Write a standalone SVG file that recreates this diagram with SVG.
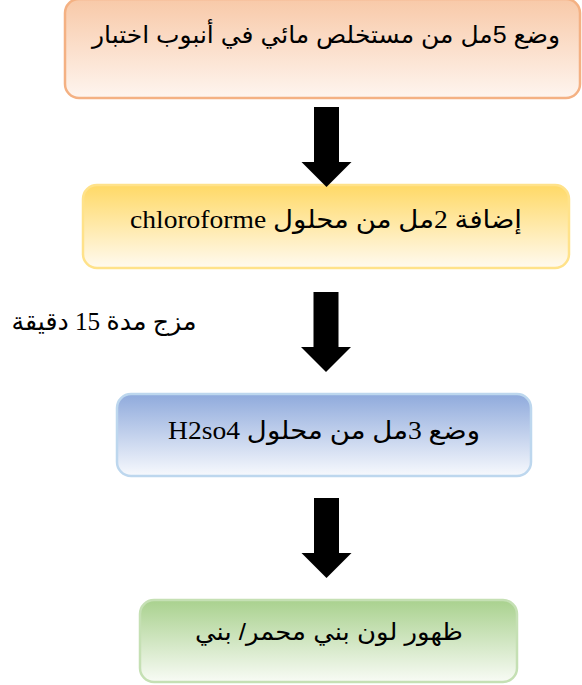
<svg xmlns="http://www.w3.org/2000/svg" width="582" height="685" viewBox="0 0 582 685">
<defs>
<linearGradient id="g1" x1="0" y1="0" x2="0" y2="1"><stop offset="0" stop-color="#f8c9a8"/><stop offset="1" stop-color="#fef5ef"/></linearGradient>
<linearGradient id="g2" x1="0" y1="0" x2="0" y2="1"><stop offset="0" stop-color="#ffd966"/><stop offset="1" stop-color="#fffaf0"/></linearGradient>
<linearGradient id="g3" x1="0" y1="0" x2="0" y2="1"><stop offset="0" stop-color="#8faadc"/><stop offset="1" stop-color="#f7f9fd"/></linearGradient>
<linearGradient id="g4" x1="0" y1="0" x2="0" y2="1"><stop offset="0" stop-color="#a9d18e"/><stop offset="1" stop-color="#f8fbf5"/></linearGradient>
<polygon id="arr" points="-12.5,0 12.5,0 12.5,55 25,55 0,80 -25,55 -12.5,55" fill="#000"/>
</defs>
<style>
.box{stroke-width:2.5}
.sans{font-family:"Liberation Sans","DejaVu Sans",sans-serif;font-size:24px;fill:#000}
.serif{font-family:"Liberation Serif","DejaVu Serif","DejaVu Sans",serif;font-size:25px;fill:#000}
</style>
<g id="node1">
<rect class="box" x="65" y="-1" width="515" height="99" rx="14" fill="url(#g1)" stroke="#f4b183"/>
<text class="sans" x="326" y="43" text-anchor="middle" direction="rtl" textLength="468" lengthAdjust="spacingAndGlyphs">وضع 5مل من مستخلص مائي في أنبوب اختبار</text>
</g>
<g id="node2">
<rect class="box" x="83" y="185" width="486" height="83" rx="14" fill="url(#g2)" stroke="#ffe28a"/>
<text class="serif" x="326" y="228" text-anchor="middle" direction="rtl" textLength="392" lengthAdjust="spacingAndGlyphs">إضافة 2مل من محلول chloroforme</text>
</g>
<g id="node3">
<rect class="box" x="117" y="394" width="414" height="82" rx="14" fill="url(#g3)" stroke="#bdd7ee"/>
<text class="serif" x="324" y="439" text-anchor="middle" direction="rtl" textLength="312" lengthAdjust="spacingAndGlyphs">وضع 3مل من محلول H2so4</text>
</g>
<g id="node4">
<rect class="box" x="140" y="600" width="377" height="82" rx="14" fill="url(#g4)" stroke="#c5e0b4"/>
<text class="sans" x="329" y="640" text-anchor="middle" direction="rtl" textLength="268" lengthAdjust="spacingAndGlyphs">ظهور لون بني محمر/ بني</text>
</g>
<g id="label">
<text class="serif" x="104" y="330" text-anchor="middle" direction="rtl" textLength="185" lengthAdjust="spacingAndGlyphs">مزج مدة 15 دقيقة</text>
</g>
<g id="connectors">
<use href="#arr" x="326.5" y="107"/>
<use href="#arr" x="326" y="292"/>
<use href="#arr" x="326.5" y="498"/>
</g>
</svg>
